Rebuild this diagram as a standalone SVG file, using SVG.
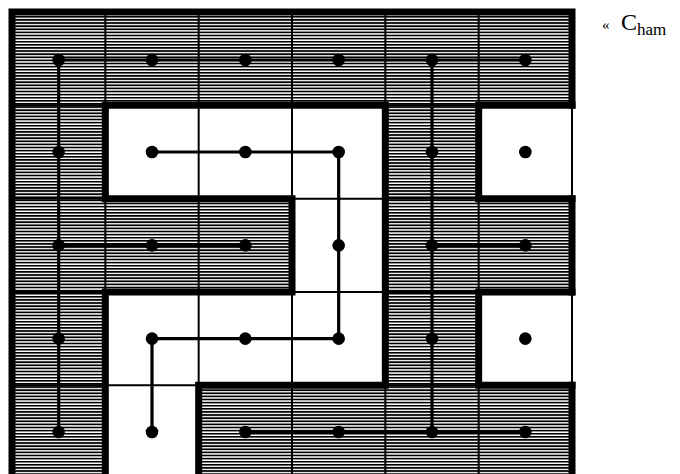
<svg xmlns="http://www.w3.org/2000/svg" width="680" height="474" viewBox="0 0 680 474">
<defs>
<pattern id="hatch" patternUnits="userSpaceOnUse" x="0" y="16" width="20" height="3.111">
<rect x="0" y="0" width="20" height="1.7" fill="#000"/>
</pattern>
<style>
.thin{stroke:#000;stroke-width:2;fill:none}
.wall{stroke:#000;stroke-width:7;fill:none;stroke-linecap:square;stroke-linejoin:miter}
.conn{stroke:#000;stroke-width:3.2;fill:none;stroke-linejoin:miter}
.dot{fill:#000}
.lbl{font-family:"Liberation Serif","Times New Roman",serif;fill:#000}
</style>
</defs>
<rect width="680" height="474" fill="#fff"/>
<g id="hatched-region">
<rect x="12" y="12" width="560" height="470" fill="url(#hatch)"/>
</g>
<g id="white-cells" fill="#fff">
<rect x="105.33" y="105.33" width="280" height="93.33"/>
<rect x="292" y="198.67" width="93.33" height="93.33"/>
<rect x="105.33" y="292" width="280" height="93.33"/>
<rect x="105.33" y="385.33" width="93.33" height="93.33"/>
<rect x="478.67" y="105.33" width="93.33" height="93.33"/>
<rect x="478.67" y="292" width="93.33" height="93.33"/>
</g>
<g id="grid">
<path class="thin" d="M105.33 12V480M198.67 12V480M292 12V480M385.33 12V480M478.67 12V480M572 12V480M12 105.33H572M12 198.67H572M12 292H572M12 385.33H572"/>
</g>
<g id="walls">
<path class="wall" d="M12 480V12H572V105.33"/>
<path class="wall" d="M572 198.67V292"/>
<path class="wall" d="M572 385.33V480"/>
<path class="wall" d="M198.67 480V385.33H385.33V105.33H105.33V198.67H292V292H105.33V480"/>
<path class="wall" d="M572 105.33H478.67V198.67H572"/>
<path class="wall" d="M572 292H478.67V385.33H572"/>
</g>
<g id="connectors">
<path class="conn" d="M58.67 60H525.33"/>
<path class="conn" d="M58.67 60V432"/>
<path class="conn" d="M58.67 245.33H245.33"/>
<path class="conn" d="M432 60V432"/>
<path class="conn" d="M432 245.33H525.33"/>
<path class="conn" d="M245.33 432H525.33"/>
<path class="conn" d="M152 152H338.67V338.67H152V432"/>
</g>
<g id="nodes">
<g id="n0-0"><circle class="dot" cx="58.67" cy="60" r="6.3"/></g>
<g id="n0-1"><circle class="dot" cx="152" cy="60" r="6.3"/></g>
<g id="n0-2"><circle class="dot" cx="245.33" cy="60" r="6.3"/></g>
<g id="n0-3"><circle class="dot" cx="338.67" cy="60" r="6.3"/></g>
<g id="n0-4"><circle class="dot" cx="432" cy="60" r="6.3"/></g>
<g id="n0-5"><circle class="dot" cx="525.33" cy="60" r="6.3"/></g>
<g id="n1-0"><circle class="dot" cx="58.67" cy="152" r="6.3"/></g>
<g id="n1-1"><circle class="dot" cx="152" cy="152" r="6.3"/></g>
<g id="n1-2"><circle class="dot" cx="245.33" cy="152" r="6.3"/></g>
<g id="n1-3"><circle class="dot" cx="338.67" cy="152" r="6.3"/></g>
<g id="n1-4"><circle class="dot" cx="432" cy="152" r="6.3"/></g>
<g id="n1-5"><circle class="dot" cx="525.33" cy="152" r="6.3"/></g>
<g id="n2-0"><circle class="dot" cx="58.67" cy="245.33" r="6.3"/></g>
<g id="n2-1"><circle class="dot" cx="152" cy="245.33" r="6.3"/></g>
<g id="n2-2"><circle class="dot" cx="245.33" cy="245.33" r="6.3"/></g>
<g id="n2-3"><circle class="dot" cx="338.67" cy="245.33" r="6.3"/></g>
<g id="n2-4"><circle class="dot" cx="432" cy="245.33" r="6.3"/></g>
<g id="n2-5"><circle class="dot" cx="525.33" cy="245.33" r="6.3"/></g>
<g id="n3-0"><circle class="dot" cx="58.67" cy="338.67" r="6.3"/></g>
<g id="n3-1"><circle class="dot" cx="152" cy="338.67" r="6.3"/></g>
<g id="n3-2"><circle class="dot" cx="245.33" cy="338.67" r="6.3"/></g>
<g id="n3-3"><circle class="dot" cx="338.67" cy="338.67" r="6.3"/></g>
<g id="n3-4"><circle class="dot" cx="432" cy="338.67" r="6.3"/></g>
<g id="n3-5"><circle class="dot" cx="525.33" cy="338.67" r="6.3"/></g>
<g id="n4-0"><circle class="dot" cx="58.67" cy="432" r="6.3"/></g>
<g id="n4-1"><circle class="dot" cx="152" cy="432" r="6.3"/></g>
<g id="n4-2"><circle class="dot" cx="245.33" cy="432" r="6.3"/></g>
<g id="n4-3"><circle class="dot" cx="338.67" cy="432" r="6.3"/></g>
<g id="n4-4"><circle class="dot" cx="432" cy="432" r="6.3"/></g>
<g id="n4-5"><circle class="dot" cx="525.33" cy="432" r="6.3"/></g>
</g>
<g id="caption">
<text class="lbl" x="602" y="30" font-size="24"><tspan font-size="15">«</tspan><tspan x="621">C</tspan><tspan font-size="17" dy="5">ham</tspan></text>
</g>
</svg>
